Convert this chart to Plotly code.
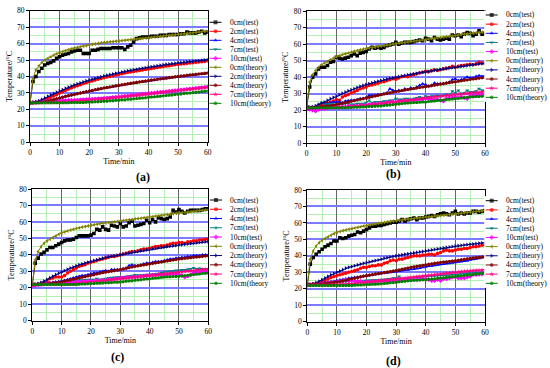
import plotly.graph_objects as go

W, H = 550, 368
TIME_MIN = list(range(61))
SERIES = ["0cm(test)", "2cm(test)", "4cm(test)", "7cm(test)", "10cm(test)",
          "0cm(theory)", "2cm(theory)", "4cm(theory)", "7cm(theory)", "10cm(theory)"]
LEGEND_TEXT = [SERIES, SERIES, SERIES[:9] + ["10cm(theory"], SERIES]
PANEL_LABELS = ["(a)", "(b)", "(c)", "(d)"]
X_TICKS = [0, 10, 20, 30, 40, 50, 60]
Y_TICKS = [0, 10, 20, 30, 40, 50, 60, 70, 80]

# ---------------- panel (a) ----------------
A_T0 = [24, 37, 40, 43, 45, 47, 48, 48.5, 49.5, 51,
        52, 53, 53.5, 54, 55, 55.5, 56, 56, 54, 54,
        54, 56, 56, 56.5, 57, 57, 57, 57, 57.5, 57.5,
        57.5, 57.5, 56.5, 58, 59, 61, 63, 63.5, 64, 64,
        64, 64.5, 64.5, 64.5, 65, 65, 65, 65.5, 65.5, 65.5,
        65.5, 66, 66, 67, 66.5, 66.5, 66.5, 67, 67.5, 66.5,
        67]
A_T2 = [24, 24, 24.2, 24.6, 25.2, 25.8, 26.6, 27.4, 28.2, 29,
        30, 30.8, 31.6, 32.4, 33, 33.8, 34.4, 35, 35.6, 36.2,
        36.8, 37.3, 37.8, 38.3, 38.8, 39.3, 39.7, 40.1, 40.5, 40.9,
        41.3, 41.7, 42.1, 42.5, 42.8, 43.1, 43.4, 43.7, 44, 44.3,
        44.6, 44.9, 45.2, 45.5, 45.8, 46.1, 46.4, 46.6, 46.9, 47.1,
        47.4, 47.6, 47.8, 48, 48.2, 48.4, 48.6, 48.8, 49, 49.2,
        49.4]
A_T4 = [24, 24, 24.1, 24.2, 24.5, 24.8, 25.2, 25.6, 26, 26.5,
        27, 27.5, 27.9, 28.4, 28.8, 29.2, 29.6, 30, 30.4, 30.8,
        31.2, 31.5, 31.9, 32.2, 32.6, 32.9, 33.3, 33.6, 33.9, 34.2,
        34.5, 34.8, 35.1, 35.4, 35.7, 36, 36.3, 36.6, 36.9, 37.1,
        37.4, 37.7, 37.9, 38.2, 38.4, 38.7, 38.9, 39.2, 39.4, 39.7,
        39.9, 40.1, 40.3, 40.6, 40.8, 41, 41.2, 41.4, 41.6, 41.8,
        42]
A_T7 = [24, 24.2, 24.4, 24.5, 24.6, 24.7, 24.8, 24.9, 25, 25.1,
        25.2, 25.3, 25.4, 25.5, 25.6, 25.7, 25.8, 25.9, 26, 26.1,
        26.2, 26.3, 26.4, 26.5, 26.6, 26.7, 26.9, 27.3, 27.6, 27.4,
        27.5, 27.6, 27.7, 27.9, 28.1, 28.3, 28.5, 28.7, 29, 29.2,
        29.4, 29.6, 29.8, 30, 30.2, 30.4, 30.6, 30.8, 31, 31.2,
        31.4, 31.6, 31.8, 32, 32.3, 32.6, 32.9, 33.2, 33.5, 33.7,
        34]
A_T10 = [24, 24.3, 24.5, 24.6, 24.8, 24.9, 25, 25.1, 25.1, 25.2,
         25.3, 25.4, 25.4, 25.5, 25.6, 25.7, 25.7, 25.8, 26, 26.1,
         26.2, 26.3, 26.4, 26.5, 26.6, 26.8, 27, 27.1, 27.3, 27.5,
         27.7, 27.9, 28.1, 28.3, 28.5, 28.7, 28.9, 29.1, 29.3, 29.5,
         29.7, 29.9, 30.1, 30.3, 30.5, 30.7, 30.9, 31.1, 31.3, 31.5,
         31.7, 31.9, 32.1, 32.3, 32.5, 32.7, 32.9, 33.1, 33.3, 33.5,
         33.7]
A_H0 = [24, 39, 44, 46.5, 48.5, 50, 51, 52, 53, 53.8,
        54.5, 55.2, 55.8, 56.3, 56.8, 57.3, 57.7, 58.1, 58.5, 58.8,
        59.2, 59.5, 59.8, 60.1, 60.4, 60.6, 60.8, 61, 61.2, 61.4,
        61.6, 61.8, 62, 62.2, 62.4, 62.6, 62.8, 63, 63.2, 63.4,
        63.6, 63.8, 64, 64.2, 64.4, 64.6, 64.8, 65, 65.2, 65.4,
        65.6, 65.8, 66, 66.2, 66.4, 66.6, 66.8, 67, 67.2, 67.4,
        67.6]
A_H2 = [24, 24.2, 24.6, 25.2, 26, 27, 28, 28.8, 29.6, 30.4,
        31.2, 32, 32.8, 33.5, 34.2, 34.9, 35.5, 36.1, 36.7, 37.3,
        37.8, 38.3, 38.8, 39.3, 39.8, 40.3, 40.7, 41.1, 41.5, 41.9,
        42.3, 42.7, 43.1, 43.5, 43.8, 44.1, 44.4, 44.7, 45, 45.3,
        45.6, 45.9, 46.2, 46.5, 46.8, 47.1, 47.4, 47.6, 47.8, 48,
        48.2, 48.4, 48.6, 48.8, 49, 49.2, 49.4, 49.6, 49.8, 50,
        50.3]
A_H4 = [24, 24, 24, 24.1, 24.3, 24.6, 25, 25.4, 25.9, 26.4,
        26.9, 27.4, 27.9, 28.3, 28.7, 29.1, 29.5, 29.9, 30.3, 30.7,
        31.1, 31.5, 31.9, 32.3, 32.6, 33, 33.3, 33.6, 34, 34.3,
        34.6, 34.9, 35.2, 35.5, 35.8, 36.1, 36.4, 36.7, 37, 37.2,
        37.5, 37.8, 38, 38.3, 38.5, 38.8, 39, 39.3, 39.5, 39.8,
        40, 40.2, 40.4, 40.7, 40.9, 41.1, 41.3, 41.5, 41.7, 41.9,
        42.1]
A_H7 = [24, 24, 24, 24.1, 24.1, 24.1, 24.2, 24.2, 24.3, 24.3,
        24.4, 24.5, 24.6, 24.7, 24.8, 25, 25.1, 25.2, 25.3, 25.5,
        25.6, 25.8, 25.9, 26.1, 26.2, 26.4, 26.6, 26.8, 27, 27.2,
        27.4, 27.6, 27.8, 28, 28.2, 28.4, 28.6, 28.8, 29, 29.2,
        29.4, 29.6, 29.8, 30, 30.2, 30.4, 30.6, 30.8, 31, 31.2,
        31.4, 31.6, 31.8, 32, 32.2, 32.4, 32.6, 32.8, 33, 33.2,
        33.4]
A_H10 = [24, 24, 24, 24, 24, 24, 24, 24, 24, 24,
         24, 24, 24, 24, 24.1, 24.1, 24.1, 24.2, 24.2, 24.3,
         24.4, 24.5, 24.6, 24.7, 24.8, 24.9, 25, 25.2, 25.3, 25.5,
         25.6, 25.8, 25.9, 26.1, 26.2, 26.4, 26.6, 26.8, 26.9, 27.1,
         27.3, 27.5, 27.6, 27.8, 28, 28.2, 28.4, 28.6, 28.8, 29,
         29.2, 29.4, 29.6, 29.8, 30, 30.2, 30.4, 30.6, 30.8, 31,
         31.2]

# ---------------- panel (b) ----------------
B_T0 = [22, 34, 40, 42, 45, 46, 46, 47, 49, 49.5,
        52, 51.5, 51, 51.5, 52, 53, 54, 53, 54.5, 55,
        55.5, 57, 58, 57.5, 58, 57.5, 58, 59, 59.5, 60,
        61, 60, 60.5, 61, 61, 61, 61.5, 62, 62.5, 62,
        63.5, 63, 62, 64, 63, 62.5, 63, 63.5, 63, 65.5,
        65, 65.5, 64.5, 66, 67, 66.5, 65, 66, 68, 66,
        66.5]
B_T2 = [21, 21.5, 21.5, 21.8, 22, 22.8, 23.5, 24.3, 25, 25.5,
        26.5, 26, 28, 28.8, 29.5, 30.5, 31.2, 32, 33, 33.5,
        34, 35, 35.3, 35.8, 36.3, 37, 37.2, 37.8, 38.5, 39,
        38.8, 39.5, 40.2, 40.5, 40.2, 41, 41.5, 42, 42.5, 43,
        43.5, 43.2, 43.8, 44.5, 44, 44.5, 45, 45.3, 45.8, 46.5,
        46, 46.5, 47, 47.2, 47.5, 47.8, 47.5, 48, 49, 48.5,
        48]
B_T4 = [21.5, 21.8, 22, 22, 23, 24.5, 24.5, 24, 24.5, 25,
        25, 25, 24.5, 25.5, 25.8, 26, 26, 26.5, 27, 27,
        27.5, 29, 29, 29, 29.5, 29.5, 30, 30.5, 33, 32,
        31.5, 32, 31.5, 33, 32.5, 33.5, 33, 34, 35, 36,
        35.5, 34.5, 35, 36.5, 36, 36, 36, 36.5, 37, 38.5,
        39, 38, 38.5, 39, 40, 39.5, 39.5, 40.5, 41, 40.5,
        41]
B_T7 = [21, 21.5, 21.8, 22, 23, 24.5, 23.5, 23.5, 24, 23.5,
        23, 23.5, 23.5, 24, 24, 23.5, 23.5, 24, 24, 24,
        24.5, 26, 24.5, 25, 25, 25, 25.5, 25.5, 26, 26,
        27, 26.5, 26.5, 27, 27, 26.5, 27, 27.5, 28, 27.5,
        28.5, 28, 28.5, 28.5, 29, 28.5, 29, 29.5, 29, 31.5,
        30.5, 32, 30, 30.5, 32, 31, 31, 31.5, 33, 32,
        32]
B_T10 = [20.5, 20.5, 20, 19.5, 20.5, 21, 21, 21.5, 22, 22,
         22, 22, 22, 22, 22.5, 22.5, 22.5, 22.5, 23, 23,
         23, 23.5, 23.5, 23.5, 24, 24, 24, 24.5, 25, 25,
         25, 25.5, 25.5, 25.5, 25.5, 26, 26, 26, 26.5, 26.5,
         27, 27, 26.5, 26.5, 26.5, 26, 25.5, 27, 27.5, 27.5,
         28, 27.5, 28, 27.5, 27, 28.5, 28.5, 29, 29, 29.5,
         30]
B_H0 = [22, 37, 41.5, 44, 46, 47.5, 48.5, 49.5, 50.5, 51.5,
        52.3, 53, 53.6, 54.1, 54.6, 55.1, 55.6, 56, 56.5, 56.9,
        57.3, 57.6, 57.9, 58.2, 58.5, 58.8, 59.1, 59.4, 59.7, 60,
        60.3, 60.5, 60.8, 61, 61.2, 61.5, 61.7, 62, 62.2, 62.5,
        62.7, 63, 63.2, 63.5, 63.7, 64, 64.2, 64.5, 64.7, 65,
        65.2, 65.5, 65.7, 66, 66.2, 66.4, 66.6, 66.8, 67, 67.2,
        67.4]
B_H2 = [21.5, 21.7, 22, 22.7, 23.5, 24.2, 25, 26, 27, 27.8,
        28.5, 29.4, 30.2, 31, 31.7, 32.4, 33, 33.7, 34.4, 35,
        35.5, 36, 36.5, 37, 37.5, 38, 38.4, 38.8, 39.2, 39.5,
        39.9, 40.3, 40.6, 41, 41.4, 41.7, 42, 42.3, 42.6, 42.9,
        43.2, 43.5, 43.8, 44.1, 44.4, 44.7, 45, 45.3, 45.5, 45.8,
        46, 46.3, 46.5, 46.8, 47, 47.3, 47.5, 47.8, 48, 48.2,
        48.5]
B_H4 = [21.5, 21.5, 21.6, 21.7, 21.8, 22, 22.2, 22.5, 22.8, 23.1,
        23.5, 23.9, 24.3, 24.6, 25, 25.4, 25.8, 26.2, 26.6, 27,
        27.4, 27.8, 28.2, 28.6, 29, 29.4, 29.8, 30.1, 30.5, 30.9,
        31.2, 31.5, 31.9, 32.2, 32.5, 32.8, 33.1, 33.4, 33.7, 34,
        34.3, 34.6, 34.9, 35.2, 35.5, 35.8, 36.1, 36.4, 36.7, 37,
        37.2, 37.5, 37.8, 38.1, 38.3, 38.6, 38.9, 39.1, 39.4, 39.6,
        39.8]
B_H7 = [21.5, 21.5, 21.5, 21.5, 21.5, 21.5, 21.5, 21.5, 21.6, 21.6,
        21.7, 21.8, 21.9, 22, 22.1, 22.2, 22.4, 22.5, 22.7, 22.8,
        23, 23.2, 23.4, 23.6, 23.8, 24, 24.2, 24.4, 24.6, 24.8,
        25, 25.3, 25.5, 25.8, 26, 26.3, 26.5, 26.8, 27, 27.2,
        27.5, 27.7, 27.9, 28.1, 28.3, 28.5, 28.7, 28.9, 29.1, 29.3,
        29.5, 29.7, 29.8, 30, 30.2, 30.4, 30.5, 30.7, 30.8, 31,
        31.1]
B_H10 = [21.5, 21.5, 21.5, 21.5, 21.5, 21.5, 21.5, 21.5, 21.5, 21.5,
         21.5, 21.5, 21.5, 21.5, 21.5, 21.6, 21.7, 21.8, 21.9, 22,
         22.1, 22.2, 22.3, 22.4, 22.5, 22.6, 22.8, 23, 23.2, 23.4,
         23.6, 23.8, 24, 24.2, 24.4, 24.5, 24.6, 24.7, 24.8, 24.9,
         25, 25.2, 25.4, 25.6, 25.8, 26, 26.2, 26.4, 26.6, 26.8,
         27, 27.2, 27.4, 27.6, 27.8, 28, 28.1, 28.2, 28.3, 28.4,
         28.5]

# ---------------- panel (c) ----------------
C_T0 = [22, 35, 38, 40.5, 41.5, 43, 44.5, 44.5, 45.5, 46.5,
        47.5, 48.5, 49, 49, 49.5, 50.5, 51.5, 51.5, 51.5, 51.5,
        52, 53, 55.5, 55, 57, 55.5, 55, 58, 57.5, 57,
        59, 57, 57.5, 59.5, 60.5, 57.5, 58, 58.5, 59, 61,
        59.5, 61.5, 60, 62.5, 62, 61.5, 62, 63, 67, 66,
        67.5, 66.5, 65.5, 66.5, 67, 67, 67, 67, 67.5, 68,
        68]
C_T2 = [22, 22, 22.3, 22.6, 23, 24, 25.5, 26, 26.5, 26.5,
        26.5, 27.5, 29, 30, 31, 32, 33, 33.5, 34, 35,
        35.5, 36, 36.5, 37, 37.5, 38, 38.5, 39, 39, 39.5,
        40, 40.5, 41, 41.5, 42, 42, 42.5, 43, 43.5, 43.5,
        44, 44.5, 45, 45, 45.5, 45.5, 46, 46.5, 47, 47,
        47.5, 47.5, 47, 48, 48, 48.5, 48.5, 49, 49, 49.5,
        49.5]
C_T4 = [22, 22, 22.2, 22.4, 22.6, 23, 23.2, 23.4, 23.6, 23.8,
        24, 24.5, 25, 25.5, 26, 26.5, 27, 27.5, 27.5, 28,
        28.5, 29, 29, 29.5, 30, 30.5, 30, 31, 31, 31,
        31, 31.5, 32, 33.5, 34, 33.5, 33.5, 34, 34.5, 35,
        35, 35.5, 36, 36, 36, 36.5, 37, 37.5, 37.5, 38,
        38, 38.5, 38.5, 39, 39, 39.5, 39.5, 39.5, 40, 40,
        40]
C_T7 = [22, 22, 22.1, 22.2, 22.3, 22.5, 22.7, 22.9, 23.1, 23.3,
        23.5, 23.7, 23.9, 24.1, 24.3, 24.5, 24.6, 24.7, 24.8, 24.9,
        25, 25, 25.5, 25, 25.3, 25.6, 26, 26.2, 26.3, 26.4,
        26.5, 26.6, 26.8, 27, 27.3, 27.8, 27.5, 27.6, 27.7, 27.9,
        28, 28.2, 28.4, 28.6, 29, 29.5, 29.8, 30, 30.3, 30.5,
        30.5, 30.8, 30.9, 31, 31.3, 32, 31.5, 31.8, 31.5, 31.3,
        31]
C_T10 = [21, 21.5, 21.8, 22, 22.2, 22.5, 22.6, 22.7, 22.8, 22.9,
         23, 23.1, 23.2, 23.3, 23.4, 23.5, 23.6, 23.7, 23.8, 23.9,
         24, 24.1, 24.2, 24.3, 24.4, 24.5, 24.8, 25, 25.3, 25.6,
         26, 26.1, 26.2, 26.3, 26.4, 26.5, 26.7, 26.9, 27.1, 27.3,
         27.5, 27.6, 27.7, 27.8, 27.9, 28, 28, 28.1, 28.1, 28.2,
         28, 27.5, 26.5, 27, 28, 29, 29.2, 29.4, 29.6, 29.8,
         30]
C_H0 = [22, 37, 42, 45, 47, 48.5, 49.5, 50.5, 51.5, 52.5,
        53.3, 53.9, 54.5, 55, 55.5, 56, 56.4, 56.8, 57.2, 57.6,
        58, 58.3, 58.6, 58.9, 59.2, 59.4, 59.6, 59.8, 60, 60.3,
        60.5, 60.8, 61, 61.3, 61.5, 61.8, 62, 62.2, 62.5, 62.7,
        63, 63.2, 63.5, 63.7, 64, 64.2, 64.5, 64.7, 65, 65.2,
        65.4, 65.6, 65.8, 66, 66.2, 66.5, 66.7, 66.9, 67.1, 67.3,
        67.5]
C_H2 = [22, 22.2, 22.5, 23.2, 24, 25, 26, 27, 28, 28.8,
        29.5, 30.4, 31.2, 32, 32.6, 33.3, 34, 34.5, 35, 35.5,
        36, 36.5, 37, 37.5, 38, 38.5, 38.8, 39.1, 39.4, 39.7,
        40, 40.4, 40.8, 41.1, 41.5, 41.8, 42.1, 42.4, 42.7, 43,
        43.3, 43.6, 43.9, 44.2, 44.5, 44.7, 45, 45.2, 45.5, 45.7,
        46, 46.2, 46.4, 46.6, 46.8, 47, 47.2, 47.5, 47.7, 47.9,
        48]
C_H4 = [22, 22, 22, 22.1, 22.2, 22.4, 22.6, 22.8, 23, 23.3,
        23.6, 24, 24.4, 24.8, 25.2, 25.6, 26, 26.4, 26.8, 27.2,
        27.6, 28, 28.4, 28.8, 29.2, 29.5, 29.8, 30.1, 30.4, 30.7,
        31, 31.4, 31.8, 32.2, 32.6, 33, 33.3, 33.6, 33.9, 34.2,
        34.5, 34.8, 35.1, 35.4, 35.7, 36, 36.3, 36.6, 36.9, 37.2,
        37.5, 37.7, 37.9, 38.1, 38.3, 38.5, 38.7, 38.9, 39.1, 39.3,
        39.5]
C_H7 = [22, 22, 22, 22, 22, 22, 22, 22, 22, 22,
        22, 22.1, 22.2, 22.3, 22.4, 22.5, 22.7, 22.9, 23.1, 23.3,
        23.5, 23.7, 23.9, 24.1, 24.3, 24.5, 24.7, 24.9, 25.1, 25.3,
        25.5, 25.7, 25.9, 26.1, 26.3, 26.5, 26.7, 26.9, 27.1, 27.3,
        27.5, 27.7, 27.9, 28.1, 28.3, 28.5, 28.7, 28.9, 29.1, 29.3,
        29.5, 29.7, 29.9, 30.1, 30.3, 30.5, 30.7, 30.9, 31.1, 31.3,
        31.5]
C_H10 = [22, 22, 22, 22, 22, 22, 22, 22, 22, 22,
         22, 22, 22, 22, 22, 22, 22.1, 22.2, 22.3, 22.4,
         22.5, 22.6, 22.7, 22.8, 22.9, 23, 23.1, 23.2, 23.3, 23.4,
         23.5, 23.7, 23.9, 24.1, 24.3, 24.5, 24.7, 24.9, 25.1, 25.3,
         25.5, 25.7, 25.9, 26.1, 26.3, 26.5, 26.6, 26.7, 26.8, 26.9,
         27, 27.2, 27.4, 27.6, 27.8, 28, 28.2, 28.4, 28.6, 28.8,
         29]

# ---------------- panel (d) ----------------
D_T0 = [22.5, 35, 39, 41, 42.5, 44, 45.5, 46.5, 47.5, 49,
        49, 51, 50.5, 51, 52, 52.5, 53, 54.5, 54, 55,
        56, 57, 58, 58, 58.5, 58.5, 59, 59.5, 60, 60.5,
        60.5, 61, 62, 61, 62, 62.5, 63, 62, 63, 63,
        63.5, 64, 64.5, 64, 65, 65.5, 66, 65.5, 65, 66,
        67, 65.5, 66, 65.5, 66, 66, 67, 67, 66.5, 67,
        67.5]
D_T2 = [22.5, 22.5, 22.8, 23, 23.8, 24.5, 25, 26, 26.8, 27.5,
        28, 28.5, 29, 29.5, 30, 30.5, 31, 31.5, 32.5, 33,
        33, 33.5, 34, 34, 34.5, 34.5, 35.5, 36, 37, 37.5,
        37, 38, 38, 38.5, 39, 39.5, 40, 40, 40, 40.5,
        40.5, 41, 41, 40.5, 41.5, 42, 43, 43.5, 43, 43,
        43.5, 44, 44, 44.5, 44.5, 45, 45.5, 45.5, 46, 46.5,
        46.5]
D_T4 = [22.5, 22.6, 22.8, 23, 23.2, 23.5, 23.8, 24.1, 24.4, 24.7,
        25, 25.4, 25.8, 26.1, 26.5, 26.7, 26.9, 27.1, 27.5, 27.8,
        28, 28.2, 28.5, 28.8, 29, 29.3, 29.5, 29.8, 30, 30.3,
        30.5, 30.8, 31, 31.3, 31.5, 31.8, 32, 32.3, 32.5, 33,
        33.5, 33.8, 34, 34.3, 34.5, 34.8, 35, 35.3, 35.5, 35.8,
        36, 36.3, 36.5, 36.8, 37, 37.5, 37.8, 38.2, 38.5, 39,
        39.5]
D_T7 = [22.5, 22.6, 22.7, 22.8, 22.9, 23, 23.2, 23.4, 23.6, 23.8,
        24, 24.1, 24.2, 24.3, 24.4, 24.5, 24.6, 24.7, 24.8, 24.9,
        25, 25.1, 25.2, 25.3, 25.4, 25.5, 25.6, 25.8, 26, 26.5,
        26.5, 27.5, 26, 26.2, 26.4, 26.5, 26.7, 26.9, 27.1, 27.3,
        27.5, 27.6, 27.7, 27.8, 27.9, 28, 28.1, 28.2, 28.3, 28.4,
        28.5, 28.7, 28.9, 29.1, 29.3, 29.5, 29.6, 29.7, 29.8, 29.9,
        30]
D_T10 = [22, 22.3, 22.5, 22.8, 23, 23, 23.2, 23.5, 23.8, 24,
         24, 24.5, 25, 25.5, 24.5, 25, 24.5, 24.5, 24.5, 24,
         24, 24.2, 24.4, 24.5, 24.5, 24.5, 24.6, 24.7, 24.8, 24.9,
         25, 25.1, 25.2, 25.3, 25.4, 25.5, 25.6, 25.7, 25.8, 25.9,
         26, 25.5, 25, 25, 25.5, 25, 26, 26, 26.5, 27,
         27, 26.5, 26.5, 26.5, 27, 27.5, 28.5, 28.5, 28.7, 28.9,
         29]
D_H0 = [22.5, 38, 43, 46, 48, 49.5, 50.5, 51.5, 52.5, 53.5,
        54.3, 54.8, 55.3, 55.7, 56.1, 56.5, 56.9, 57.3, 57.7, 58.1,
        58.5, 58.8, 59.1, 59.4, 59.7, 60, 60.3, 60.6, 60.8, 61.1,
        61.3, 61.6, 61.8, 62.1, 62.3, 62.5, 62.7, 62.9, 63.1, 63.3,
        63.5, 63.7, 63.9, 64.1, 64.3, 64.5, 64.7, 64.9, 65.1, 65.3,
        65.5, 65.7, 65.9, 66.1, 66.3, 66.5, 66.7, 66.9, 67.1, 67.3,
        67.5]
D_H2 = [22.5, 22.7, 23, 23.7, 24.5, 25.5, 26.5, 27.5, 28.5, 29.3,
        30, 30.8, 31.6, 32.5, 33, 33.5, 34, 34.5, 35, 35.5,
        35.9, 36.3, 36.7, 37.1, 37.5, 38, 38.5, 38.9, 39.3, 39.6,
        40, 40.3, 40.6, 40.9, 41.2, 41.5, 41.8, 42.1, 42.4, 42.7,
        43, 43.3, 43.6, 43.9, 44.2, 44.5, 44.8, 45.1, 45.4, 45.7,
        46, 46.2, 46.4, 46.6, 46.8, 47, 47.2, 47.4, 47.6, 47.8,
        48]
D_H4 = [22.5, 22.5, 22.6, 22.7, 22.8, 23, 23.2, 23.4, 23.6, 23.8,
        24, 24.4, 24.8, 25.2, 25.6, 26, 26.4, 26.8, 27.2, 27.6,
        28, 28.3, 28.6, 28.9, 29.2, 29.5, 29.8, 30.1, 30.4, 30.7,
        31, 31.4, 31.8, 32.2, 32.6, 33, 33.3, 33.6, 33.9, 34.2,
        34.5, 34.8, 35.1, 35.4, 35.7, 36, 36.2, 36.4, 36.6, 36.8,
        37, 37.3, 37.6, 37.9, 38.2, 38.5, 38.7, 38.9, 39.1, 39.3,
        39.5]
D_H7 = [22.5, 22.5, 22.5, 22.5, 22.5, 22.5, 22.5, 22.5, 22.5, 22.5,
        22.5, 22.6, 22.7, 22.8, 22.9, 23, 23.2, 23.4, 23.6, 23.8,
        24, 24.2, 24.4, 24.6, 24.8, 25, 25.2, 25.4, 25.6, 25.8,
        26, 26.2, 26.4, 26.6, 26.8, 27, 27.2, 27.4, 27.6, 27.8,
        28, 28.2, 28.4, 28.6, 28.8, 29, 29.2, 29.4, 29.6, 29.8,
        30, 30.2, 30.4, 30.6, 30.8, 31, 31.1, 31.2, 31.3, 31.4,
        31.5]
D_H10 = [22, 22, 22, 22, 22, 22, 22, 22, 22, 22,
         22, 22, 22, 22, 22, 22, 22.1, 22.2, 22.3, 22.4,
         22.5, 22.6, 22.7, 22.8, 22.9, 23, 23.2, 23.4, 23.6, 23.8,
         24, 24.2, 24.4, 24.6, 24.8, 25, 25.1, 25.2, 25.3, 25.4,
         25.5, 25.7, 25.9, 26.1, 26.3, 26.5, 26.7, 26.9, 27.1, 27.3,
         27.5, 27.7, 27.9, 28.1, 28.3, 28.5, 28.7, 28.9, 29.1, 29.3,
         29.5]

PANEL_DATA = [
    [A_T0, A_T2, A_T4, A_T7, A_T10, A_H0, A_H2, A_H4, A_H7, A_H10],
    [B_T0, B_T2, B_T4, B_T7, B_T10, B_H0, B_H2, B_H4, B_H7, B_H10],
    [C_T0, C_T2, C_T4, C_T7, C_T10, C_H0, C_H2, C_H4, C_H7, C_H10],
    [D_T0, D_T2, D_T4, D_T7, D_T10, D_H0, D_H2, D_H4, D_H7, D_H10],
]

# ---------------- styling ----------------
COLORS = ["#000000", "#FF0000", "#0000FF", "#008080", "#FF00FF",
          "#808000", "#000080", "#800000", "#FF0080", "#008000"]
SYMBOLS = ["square", "circle", "triangle-up", "triangle-down", "diamond",
           "triangle-left", "triangle-right", "hexagon", "star", "pentagon"]
FONT = "Liberation Serif, Times New Roman, serif"

# plot area boxes in pixels: left, top, right, bottom
PANEL_BOX = [(30, 10.7, 207.7, 142.3), (306.7, 11, 485, 143.3),
             (32.3, 189, 208.3, 320.7), (307.3, 190, 485, 321.7)]
# legend: left px, first-entry y px, spacing px
LEGEND_BOX = [(208, 22.3, 9.0), (484.2, 15, 9.15), (208.5, 200, 9.26), (484.2, 200.7, 9.18)]
LABEL_POS = [(143, 177), (393, 174.3), (117.5, 357), (393, 360.7)]
LEG_W = 66

fig = go.Figure()
layout = dict(width=W, height=H, margin=dict(l=0, r=0, t=0, b=0, autoexpand=False),
              paper_bgcolor="white", plot_bgcolor="white", showlegend=False,
              font=dict(family=FONT, color="black"))
annotations = []

for p in range(4):
    ax = p + 1
    lx = p + 5
    l, t, r, b = PANEL_BOX[p]
    xd = [l / W, r / W]
    yd = [1 - b / H, 1 - t / H]
    sfx = "" if ax == 1 else str(ax)
    layout["xaxis" + sfx] = dict(
        domain=xd, range=[0, 60], tickvals=X_TICKS, anchor="y" + sfx, automargin=False,
        showgrid=True, gridcolor="#666666", gridwidth=1.3,
        minor=dict(dtick=5, tick0=0, showgrid=True, gridcolor="#b4f0b4", gridwidth=1),
        showline=True, linecolor="black", linewidth=1, mirror=True,
        ticks="outside", ticklen=3, tickwidth=1, tickcolor="black",
        tickfont=dict(size=7.5, family=FONT), zeroline=False,
        title=dict(text="Time/min", font=dict(size=8, family=FONT), standoff=1),
        fixedrange=True)
    layout["yaxis" + sfx] = dict(
        domain=yd, range=[0, 80], tickvals=Y_TICKS, anchor="x" + sfx, automargin=False,
        showgrid=True, gridcolor="#7b7bff", gridwidth=1.5,
        minor=dict(dtick=5, tick0=0, showgrid=True, gridcolor="#b4f0b4", gridwidth=1),
        showline=True, linecolor="black", linewidth=1, mirror=True,
        ticks="outside", ticklen=3, tickwidth=1, tickcolor="black",
        tickfont=dict(size=7.5, family=FONT), zeroline=False,
        title=dict(text="Temperature/°C", font=dict(size=8, family=FONT), standoff=3),
        fixedrange=True)

    for i, (name, ys) in enumerate(zip(SERIES, PANEL_DATA[p])):
        fig.add_trace(go.Scatter(
            x=TIME_MIN[:len(ys)], y=ys, name=name, mode="lines+markers",
            xaxis="x" + sfx, yaxis="y" + sfx,
            line=dict(color=COLORS[i], width=1),
            marker=dict(symbol=SYMBOLS[i], size=3.6, color=COLORS[i], line=dict(width=0)),
            cliponaxis=True))

    # custom compact legend on a hidden axis pair
    lx0, ly0, lsp = LEGEND_BOX[p]
    n = len(SERIES)
    ltop = ly0 - lsp / 2
    lbot = ly0 + (n - 0.5) * lsp
    lright = min(W, lx0 + LEG_W)
    layout["xaxis%d" % lx] = dict(domain=[lx0 / W, lright / W],
                                  range=[0, lright - lx0], visible=False, anchor="y%d" % lx,
                                  automargin=False, fixedrange=True)
    layout["yaxis%d" % lx] = dict(domain=[1 - lbot / H, 1 - ltop / H],
                                  range=[n - 0.5, -0.5], visible=False, anchor="x%d" % lx,
                                  automargin=False, fixedrange=True)
    for i in range(n):
        fig.add_trace(go.Scatter(
            x=[1.5, 7.5, 13.5], y=[i, i, i], mode="lines+markers",
            xaxis="x%d" % lx, yaxis="y%d" % lx, hoverinfo="skip",
            line=dict(color=COLORS[i], width=1),
            marker=dict(symbol=SYMBOLS[i], size=[0, 4, 0], color=COLORS[i], line=dict(width=0)),
            cliponaxis=False))
        annotations.append(dict(
            x=20.5, y=i, xref="x%d" % lx, yref="y%d" % lx, text=LEGEND_TEXT[p][i],
            showarrow=False, xanchor="left", yanchor="middle", borderpad=0,
            font=dict(size=7.5, family=FONT, color="black")))

    annotations.append(dict(
        x=LABEL_POS[p][0] / W, y=1 - LABEL_POS[p][1] / H, xref="paper", yref="paper",
        text="<b>%s</b>" % PANEL_LABELS[p], showarrow=False,
        xanchor="center", yanchor="middle",
        font=dict(size=12, family=FONT, color="black")))

layout["annotations"] = annotations
fig.update_layout(**layout)
fig.write_html("out.html", config={"displayModeBar": False},
               post_script="document.body.style.margin='0';document.body.style.padding='0';")
